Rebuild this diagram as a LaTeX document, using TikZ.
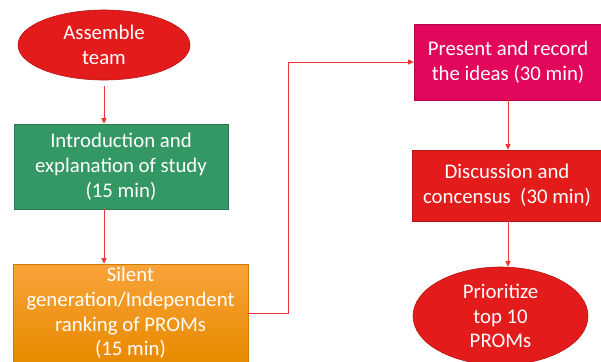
\documentclass[tikz,border=0pt]{standalone}
\usepackage{fontspec}
\setmainfont{Carlito}
\usepackage{xcolor}
\usetikzlibrary{shapes.geometric,arrows.meta}
\definecolor{teamred}{HTML}{E41B1B}
\definecolor{teamredline}{HTML}{B81212}
\definecolor{introgreen}{HTML}{349864}
\definecolor{silenttop}{HTML}{F9A33A}
\definecolor{silentbot}{HTML}{E88A00}
\definecolor{presentpink}{HTML}{E2065C}
\definecolor{arrowred}{HTML}{F03535}

\begin{document}
\begin{tikzpicture}[x=1pt, y=-1pt,
  every node/.style={text=white, align=center, font=\fontsize{20.8}{24.8}\selectfont, inner sep=0pt},
  stepbox/.style={rectangle, draw=#1!80!black, fill=#1, line width=0.6pt},
  oval/.style={ellipse, draw=teamredline, fill=teamred, line width=0.6pt},
  flow/.style={arrowred, line width=0.9pt, -{Triangle[length=5.5pt,width=5pt]}}]
  \useasboundingbox (0,0) rectangle (601,361);
  \clip (0,0) rectangle (601,361);
  \fill[white] (0,0) rectangle (601,361);
  % left column
  \node[oval, minimum width=172pt, minimum height=70pt] (assemble) at (104,45) {Assemble\\team};
  \node[stepbox=introgreen, minimum width=214pt, minimum height=85pt] (intro) at (121,166.5) {Introduction and\\explanation of study\\(15 min)};
  \node[rectangle, draw=silentbot!90!black, top color=silenttop, bottom color=silentbot, line width=0.6pt, minimum width=235pt, minimum height=98pt] (silent) at (130.5,313) {Silent\\generation/Independent\\ranking of PROMs\\(15 min)};
  % right column
  \node[stepbox=presentpink, minimum width=188pt, minimum height=76pt] (present) at (508,62) {Present and record\\the ideas (30 min)};
  \node[stepbox=teamred, minimum width=190pt, minimum height=71pt] (discuss) at (507,185.5) {Discussion and\\concensus~~(30 min)};
  \node[oval, minimum width=175pt, minimum height=98pt] (prior) at (500.5,316) {Prioritize\\top 10\\PROMs};
  % connectors
  \draw[flow] (assemble.south) ++(0,6) -- (assemble.south |- intro.north);
  \draw[flow] (intro.south -| assemble.south) -- (assemble.south |- silent.north);
  \draw[flow] (silent.east) -- ++(40,0) |- (present.west);
  \draw[flow] (present.south) -- (discuss.north -| present.south);
  \draw[flow] (discuss.south -| present.south) -- (present.south |- prior.north);
\end{tikzpicture}
\end{document}
